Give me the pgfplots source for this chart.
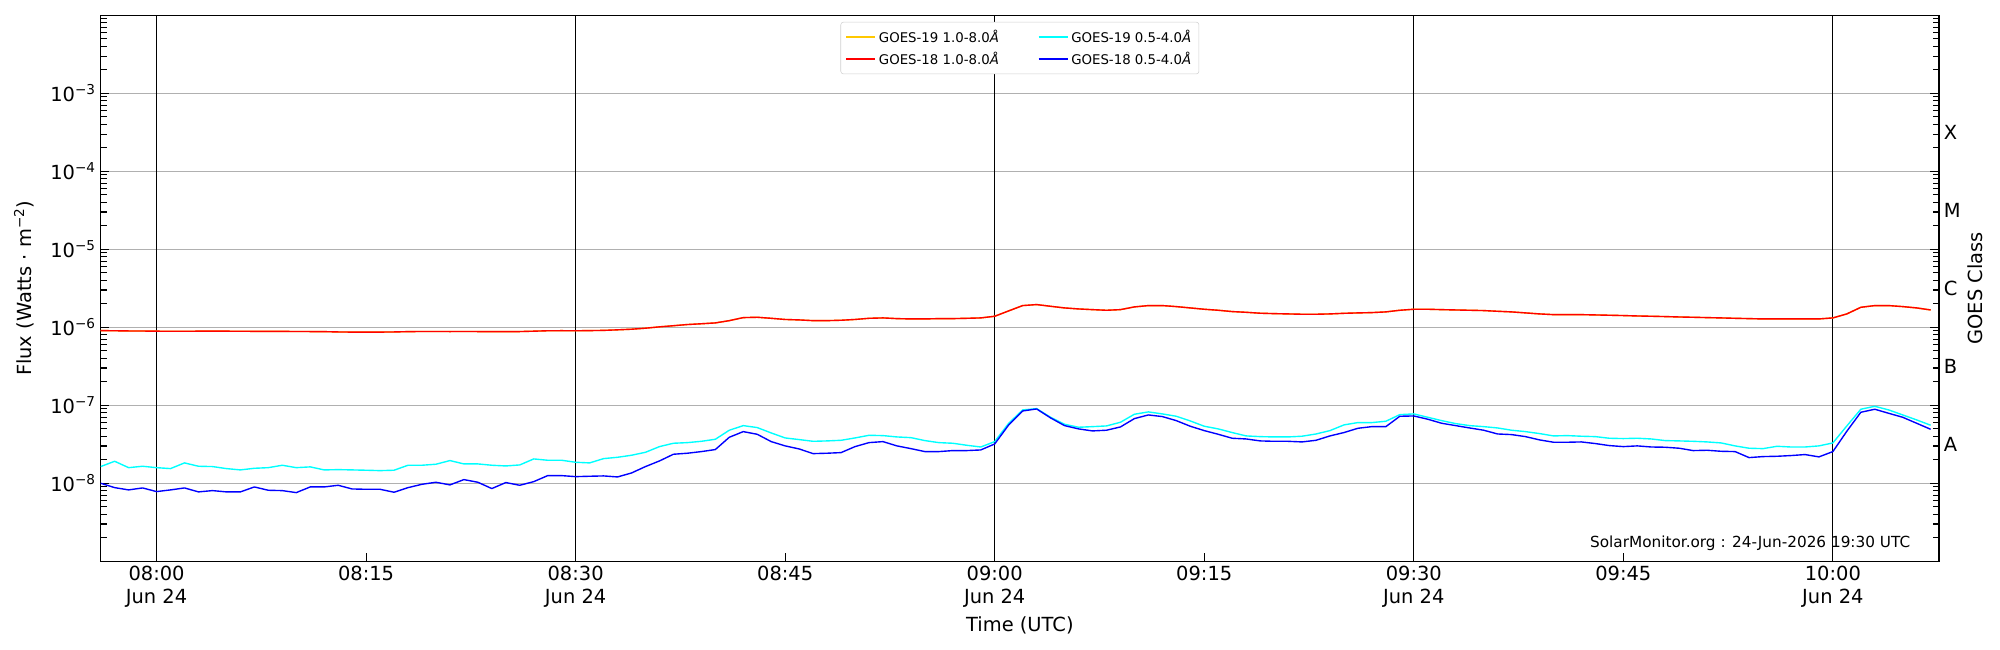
\documentclass[border=0pt]{standalone}
\usepackage{fontspec}
\setmainfont{DejaVu Sans}
\usepackage{pgfplots}
\usepackage{pgfplotstable}
\pgfplotsset{compat=1.18}
\definecolor{g19l}{RGB}{255,200,0}
\definecolor{g19s}{RGB}{0,255,255}
\definecolor{g18l}{RGB}{255,0,0}
\definecolor{g18s}{RGB}{0,0,255}
\pgfplotstableread{
t g19s g18l g18s
-4 1.637e-8 9.06e-7 1.000e-8
-3 1.914e-8 9.02e-7 8.79e-9
-2 1.585e-8 8.97e-7 8.22e-9
-1 1.652e-8 8.95e-7 8.71e-9
0 1.585e-8 8.91e-7 7.82e-9
1 1.542e-8 8.89e-7 8.22e-9
2 1.824e-8 8.89e-7 8.71e-9
3 1.652e-8 8.91e-7 7.75e-9
4 1.637e-8 8.91e-7 8.05e-9
5 1.542e-8 8.91e-7 7.75e-9
6 1.483e-8 8.89e-7 7.75e-9
7 1.556e-8 8.87e-7 8.97e-9
8 1.585e-8 8.85e-7 8.13e-9
9 1.702e-8 8.85e-7 8.05e-9
10 1.585e-8 8.83e-7 7.59e-9
11 1.622e-8 8.81e-7 8.97e-9
12 1.483e-8 8.79e-7 8.97e-9
13 1.496e-8 8.71e-7 9.42e-9
14 1.483e-8 8.67e-7 8.45e-9
15 1.469e-8 8.65e-7 8.37e-9
16 1.452e-8 8.67e-7 8.37e-9
17 1.469e-8 8.71e-7 7.67e-9
18 1.702e-8 8.79e-7 8.79e-9
19 1.702e-8 8.83e-7 9.70e-9
20 1.754e-8 8.83e-7 1.030e-8
21 1.954e-8 8.81e-7 9.53e-9
22 1.770e-8 8.83e-7 1.114e-8
23 1.770e-8 8.81e-7 1.030e-8
24 1.702e-8 8.79e-7 8.55e-9
25 1.667e-8 8.79e-7 1.021e-8
26 1.718e-8 8.81e-7 9.42e-9
27 2.051e-8 8.91e-7 1.049e-8
28 1.972e-8 9.02e-7 1.253e-8
29 1.972e-8 9.04e-7 1.253e-8
30 1.858e-8 9.02e-7 1.216e-8
31 1.824e-8 9.06e-7 1.230e-8
32 2.070e-8 9.12e-7 1.242e-8
33 2.153e-8 9.27e-7 1.205e-8
34 2.286e-8 9.44e-7 1.355e-8
35 2.495e-8 9.73e-7 1.637e-8
36 2.951e-8 1.012e-6 1.932e-8
37 3.258e-8 1.047e-6 2.355e-8
38 3.319e-8 1.084e-6 2.427e-8
39 3.451e-8 1.109e-6 2.547e-8
40 3.664e-8 1.137e-6 2.704e-8
41 4.786e-8 1.216e-6 3.890e-8
42 5.483e-8 1.330e-6 4.592e-8
43 5.176e-8 1.343e-6 4.246e-8
44 4.416e-8 1.303e-6 3.420e-8
45 3.811e-8 1.259e-6 3.013e-8
46 3.631e-8 1.242e-6 2.754e-8
47 3.451e-8 1.216e-6 2.399e-8
48 3.491e-8 1.216e-6 2.427e-8
49 3.556e-8 1.230e-6 2.472e-8
50 3.811e-8 1.259e-6 2.951e-8
51 4.121e-8 1.303e-6 3.319e-8
52 4.083e-8 1.318e-6 3.420e-8
53 3.926e-8 1.291e-6 3.013e-8
54 3.846e-8 1.279e-6 2.780e-8
55 3.524e-8 1.279e-6 2.547e-8
56 3.319e-8 1.291e-6 2.547e-8
57 3.258e-8 1.291e-6 2.624e-8
58 3.069e-8 1.303e-6 2.624e-8
59 2.917e-8 1.318e-6 2.673e-8
60 3.420e-8 1.384e-6 3.192e-8
61 5.875e-8 1.622e-6 5.598e-8
62 8.710e-8 1.897e-6 8.45e-8
63 9.057e-8 1.954e-6 8.97e-8
64 7.015e-8 1.858e-6 6.887e-8
65 5.702e-8 1.770e-6 5.483e-8
66 5.224e-8 1.718e-6 4.977e-8
67 5.321e-8 1.683e-6 4.688e-8
68 5.433e-8 1.652e-6 4.786e-8
69 6.053e-8 1.683e-6 5.272e-8
70 7.674e-8 1.824e-6 6.745e-8
71 8.222e-8 1.897e-6 7.516e-8
72 7.745e-8 1.897e-6 7.161e-8
73 7.228e-8 1.841e-6 6.353e-8
74 6.295e-8 1.770e-6 5.383e-8
75 5.383e-8 1.702e-6 4.732e-8
76 4.977e-8 1.652e-6 4.246e-8
77 4.467e-8 1.589e-6 3.776e-8
78 4.046e-8 1.556e-6 3.698e-8
79 3.963e-8 1.514e-6 3.491e-8
80 3.926e-8 1.496e-6 3.451e-8
81 3.926e-8 1.483e-6 3.451e-8
82 4.009e-8 1.469e-6 3.388e-8
83 4.285e-8 1.469e-6 3.556e-8
84 4.732e-8 1.483e-6 4.046e-8
85 5.598e-8 1.510e-6 4.467e-8
86 5.998e-8 1.528e-6 5.070e-8
87 5.998e-8 1.542e-6 5.321e-8
88 6.237e-8 1.574e-6 5.321e-8
89 7.586e-8 1.652e-6 7.228e-8
90 7.745e-8 1.702e-6 7.295e-8
91 7.015e-8 1.702e-6 6.622e-8
92 6.353e-8 1.683e-6 5.875e-8
93 5.821e-8 1.667e-6 5.483e-8
94 5.483e-8 1.652e-6 5.117e-8
95 5.321e-8 1.637e-6 4.786e-8
96 5.117e-8 1.603e-6 4.285e-8
97 4.786e-8 1.574e-6 4.207e-8
98 4.592e-8 1.528e-6 3.963e-8
99 4.335e-8 1.483e-6 3.597e-8
100 4.046e-8 1.452e-6 3.357e-8
101 4.083e-8 1.452e-6 3.357e-8
102 4.009e-8 1.452e-6 3.388e-8
103 3.963e-8 1.439e-6 3.228e-8
104 3.776e-8 1.426e-6 3.041e-8
105 3.741e-8 1.413e-6 2.951e-8
106 3.776e-8 1.396e-6 3.013e-8
107 3.698e-8 1.384e-6 2.917e-8
108 3.524e-8 1.371e-6 2.897e-8
109 3.491e-8 1.355e-6 2.812e-8
110 3.451e-8 1.343e-6 2.624e-8
111 3.388e-8 1.330e-6 2.649e-8
112 3.289e-8 1.318e-6 2.570e-8
113 3.013e-8 1.303e-6 2.547e-8
114 2.812e-8 1.291e-6 2.133e-8
115 2.780e-8 1.279e-6 2.198e-8
116 2.979e-8 1.279e-6 2.218e-8
117 2.917e-8 1.279e-6 2.265e-8
118 2.917e-8 1.279e-6 2.333e-8
119 3.013e-8 1.279e-6 2.178e-8
120 3.289e-8 1.318e-6 2.547e-8
121 5.433e-8 1.483e-6 4.645e-8
122 8.892e-8 1.803e-6 8.128e-8
123 9.705e-8 1.897e-6 8.892e-8
124 8.710e-8 1.897e-6 7.889e-8
125 7.516e-8 1.841e-6 7.015e-8
126 6.486e-8 1.770e-6 5.875e-8
127 5.546e-8 1.667e-6 4.920e-8
}\goes
\begin{document}
\begin{tikzpicture}
\useasboundingbox (-72.5pt,-63.9pt) rectangle (1367.5pt,404.1pt);
\begin{axis}[
  at={(0,0)}, anchor=south west, scale only axis,
  width=1323.6pt, height=393.1pt,
  ymode=log, ymin=1e-9, ymax=1e-2, xmin=-4, xmax=127.6,
  ytick={1e-9,1e-8,1e-7,1e-6,1e-5,1e-4,1e-3,1e-2},
  yticklabels={,10\textsuperscript{−8},10\textsuperscript{−7},10\textsuperscript{−6},10\textsuperscript{−5},10\textsuperscript{−4},10\textsuperscript{−3},},
  ymajorgrids, major grid style={color=black!31, line width=0.8pt},
  xtick={15,45,75,105}, xticklabels={08:15,08:45,09:15,09:45},
  extra x ticks={0,30,60,90,120},
  extra x tick labels={08:00\\Jun 24,08:30\\Jun 24,09:00\\Jun 24,09:30\\Jun 24,10:00\\Jun 24},
  extra x tick style={grid=major, major grid style={black, line width=0.9pt}},
  xticklabel style={align=center},
  xtick pos=bottom, ytick pos=both, tick align=inside,
  major tick length=6.2pt, minor tick length=4.5pt,
  tick style={black, line width=0.8pt},
  axis line style={line width=0.9pt},
  ticklabel style={font=\fontsize{14}{16.8}\selectfont},
  label style={font=\fontsize{14}{16.8}\selectfont},
  xlabel={Time (UTC)},
  xlabel style={at={(axis description cs:0.5,-0.1167)}, anchor=center},
  ylabel={Flux (Watts · m\textsuperscript{−2})},
  ylabel style={at={(axis description cs:-0.0417,0.5)}, anchor=center},
  legend style={at={(0.5,0.988)}, anchor=north, legend columns=2, draw=black!18, rounded corners=2pt,
    font=\fontsize{9.6}{11.5}\selectfont, inner sep=3.5pt, row sep=1.5pt,
    /tikz/every even column/.append style={column sep=26pt}},
  legend cell align=left,
  legend image code/.code={\draw[#1, line width=1pt] (0pt,0pt) -- (21pt,0pt);},
  every axis plot/.append style={line width=1pt, line join=round, no markers},
]
\addplot[g19l] table[x=t, y=g18l] {\goes};
\addlegendentry{GOES-19 1.0-8.0\textit{Å}}
\addplot[g19s] table[x=t, y=g19s] {\goes};
\addlegendentry{GOES-19 0.5-4.0\textit{Å}}
\addplot[g18l] table[x=t, y=g18l] {\goes};
\addlegendentry{GOES-18 1.0-8.0\textit{Å}}
\addplot[g18s] table[x=t, y=g18s] {\goes};
\addlegendentry{GOES-18 0.5-4.0\textit{Å}}
\node[anchor=east, font=\fontsize{11}{13}\selectfont] at (rel axis cs:0.987,0.0335) {SolarMonitor.org : 24-Jun-2026 19:30 UTC};
\end{axis}
\begin{axis}[
  at={(0,0)}, anchor=south west, scale only axis,
  width=1323.6pt, height=393.1pt,
  ymode=log, ymin=1e-9, ymax=1e-2, xmin=-4, xmax=127.6,
  axis x line=none, axis y line*=right,
  ytick={3.162e-8,3.162e-7,3.162e-6,3.162e-5,3.162e-4},
  yticklabels={A,B,C,M,X},
  yminorticks=false, major tick length=0pt,
  axis line style={line width=0.9pt},
  ticklabel style={font=\fontsize{14}{16.8}\selectfont},
  ylabel={GOES Class},
  ylabel style={font=\fontsize{14}{16.8}\selectfont, at={(axis description cs:1.0196,0.5)}, anchor=center, rotate=0},
]
\end{axis}
\end{tikzpicture}
\end{document}
